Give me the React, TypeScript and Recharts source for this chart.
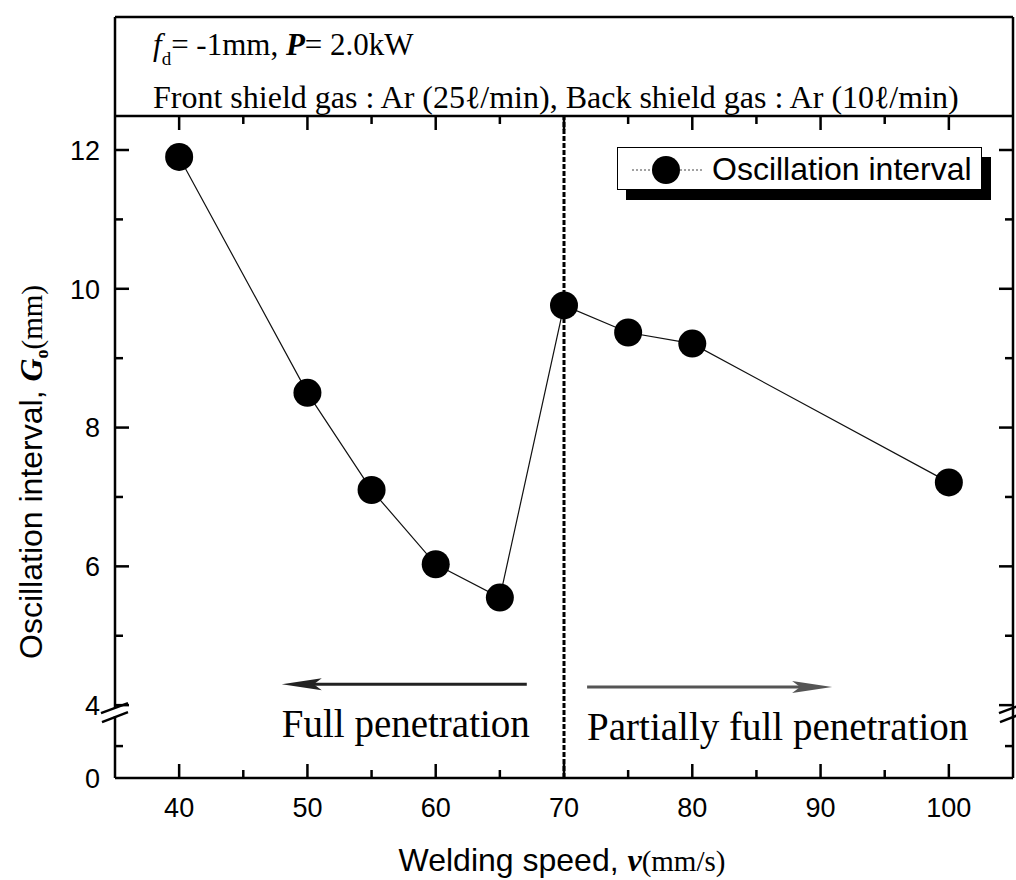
import React from 'react';
import { LineChart, Line, XAxis, YAxis, ReferenceLine, Legend } from 'recharts';

// welding speed v (mm/s) and oscillation interval Go (mm)
const SPEED = [40, 50, 55, 60, 65, 70, 75, 80, 100];
const GAP = [11.9, 8.5, 7.1, 6.03, 5.55, 9.76, 9.37, 9.21, 7.21];

const X_MAJOR = [40, 50, 60, 70, 80, 90, 100];
const X_MINOR = [45, 55, 65, 75, 85, 95];
const Y_MAJOR = [0, 4, 6, 8, 10, 12];
const Y_MINOR = [2, 5, 7, 9, 11];

const ARROWS = [
  { from: 67.1, to: 48, y: 4.3, text: 'Full penetration', color: '#222' },
  { from: 71.8, to: 90.9, y: 4.26, text: 'Partially full penetration', color: '#555' },
];

const SANS = '"Liberation Sans", Arial, sans-serif';
const SERIF = '"Liberation Serif", "Times New Roman", "DejaVu Serif", serif';

const X_MIN = 35;
const X_MAX = 105;

// broken y axis: 0..4 is squeezed below the break
const Y_BOTTOM = 2.95;
const Y_TOP = 12.49;
const LOW_SCALE = 0.23;
const BREAK_AT = 3.9;
const brokenY = (v: number) => (v >= 4 ? v : Y_BOTTOM + v * LOW_SCALE);
const Y_ALL = [...Y_MAJOR, ...Y_MINOR];
const rawOf = (d: number) => Y_ALL.find(t => Math.abs(brokenY(t) - d) < 1e-6);

const yTicks = [...Y_ALL.map(brokenY), BREAK_AT].sort((a, b) => a - b);
const xTicks = [...X_MAJOR, ...X_MINOR].sort((a, b) => a - b);

const data = SPEED.map((s, i) => ({ speed: s, gap: brokenY(GAP[i]) }));

const AX = 2.5;
const LEFT = 115;
const RIGHT = 1013;
const TOP = 116;
const BOTTOM = 778;
const MAJ = 14;
const MIN = 8;

// tick length in data units (inward ticks on all four sides)
const xPerPx = (X_MAX - X_MIN) / (RIGHT - LEFT);
const yPerPx = (Y_TOP - Y_BOTTOM) / (BOTTOM - TOP);

const frameTicks: { x1: number; y1: number; x2: number; y2: number }[] = [];
xTicks.forEach(t => {
  const len = (X_MAJOR.includes(t) ? MAJ : MIN) * yPerPx;
  frameTicks.push({ x1: t, y1: Y_BOTTOM, x2: t, y2: Y_BOTTOM + len });
  frameTicks.push({ x1: t, y1: Y_TOP, x2: t, y2: Y_TOP - len });
});
Y_ALL.filter(t => t > 0).forEach(t => {
  const d = brokenY(t);
  const len = (Y_MAJOR.includes(t) ? MAJ : MIN) * xPerPx;
  frameTicks.push({ x1: X_MIN, y1: d, x2: X_MIN + len, y2: d });
  frameTicks.push({ x1: X_MAX, y1: d, x2: X_MAX - len, y2: d });
});

function BreakMark({ x, y }: { x: number; y: number }) {
  return (
    <g>
      <rect x={x - 3} y={y - 4} width={6} height={8} fill="#fff" />
      <line x1={x - 14} y1={y + 1} x2={x + 13} y2={y - 9} stroke="#000" strokeWidth={2.5} />
      <line x1={x - 13} y1={y + 10} x2={x + 13} y2={y} stroke="#000" strokeWidth={2.5} />
    </g>
  );
}

function LeftTick({ y, payload }: any) {
  const v = payload.value;
  const x = LEFT;
  if (Math.abs(v - BREAK_AT) < 1e-6) return <BreakMark x={x} y={y} />;
  const raw = rawOf(v) as number;
  if (!Y_MAJOR.includes(raw)) return <g />;
  return (
    <text x={x - 15} y={y} dy="0.36em" textAnchor="end" fontSize={27} fontFamily={SANS} fill="#000">
      {raw}
    </text>
  );
}

function RightTick({ y, payload }: any) {
  const v = payload.value;
  if (Math.abs(v - BREAK_AT) < 1e-6) return <BreakMark x={RIGHT} y={y} />;
  return <g />;
}

function BottomTick({ x, payload }: any) {
  const v = payload.value;
  if (!X_MAJOR.includes(v)) return <g />;
  return (
    <text x={x} y={BOTTOM + 39} textAnchor="middle" fontSize={27} fontFamily={SANS} fill="#000">
      {v}
    </text>
  );
}

function Arrow(props: any) {
  const { x1, y1, x2, y2, text, color } = props;
  const dir = Math.sign(x2 - x1);
  const head = 40;
  const half = 6;
  const left = Math.min(x1, x2);
  return (
    <g>
      <line x1={x1} y1={y1} x2={x2 - dir * head * 0.6} y2={y2} stroke={color} strokeWidth={3} />
      <polygon
        points={`${x2},${y2} ${x2 - dir * head},${y2 - half} ${x2 - dir * head * 0.8},${y2} ${x2 - dir * head},${y2 + half}`}
        fill={color}
      />
      <text x={left} y={y1 + 53} fontFamily={SERIF} fontSize={39} fill="#000">
        {text}
      </text>
    </g>
  );
}

function LegendBox() {
  return (
    <div
      style={{
        width: 365,
        height: 43,
        boxSizing: 'border-box',
        border: '1.5px solid #000',
        background: '#fff',
        boxShadow: '9px 10px 0 #000',
        display: 'flex',
        alignItems: 'center',
      }}
    >
      <svg width={94} height={40} style={{ flex: 'none' }}>
        <line x1={14} y1={21} x2={84} y2={21} stroke="#444" strokeWidth={1} strokeDasharray="2 2" />
        <circle cx={48} cy={21} r={14} fill="#000" />
      </svg>
      <span style={{ fontFamily: SANS, fontSize: 32, lineHeight: '40px', color: '#000' }}>Oscillation interval</span>
    </div>
  );
}

export default function App() {
  const ty = 472;
  return (
    <div style={{ position: 'absolute', left: 0, top: 0, width: 1016, height: 880, background: '#fff' }}>
      <LineChart width={1016} height={880} data={data} margin={{ top: TOP, right: 1016 - RIGHT - 1, bottom: 0, left: 0 }}>
        <XAxis
          dataKey="speed"
          type="number"
          domain={[X_MIN, X_MAX]}
          ticks={xTicks}
          interval={0}
          allowDataOverflow
          height={880 - BOTTOM}
          tickSize={0}
          tickMargin={0}
          tickLine={false}
          axisLine={{ stroke: '#000', strokeWidth: AX }}
          tick={<BottomTick />}
        />
        <YAxis
          type="number"
          domain={[Y_BOTTOM, Y_TOP]}
          ticks={yTicks}
          interval={0}
          allowDataOverflow
          width={LEFT}
          tickSize={0}
          tickMargin={0}
          tickLine={false}
          axisLine={{ stroke: '#000', strokeWidth: AX }}
          tick={<LeftTick />}
        />
        <YAxis
          yAxisId="right"
          orientation="right"
          type="number"
          domain={[Y_BOTTOM, Y_TOP]}
          ticks={yTicks}
          interval={0}
          allowDataOverflow
          width={1}
          tickSize={0}
          tickMargin={0}
          tickLine={false}
          axisLine={false}
          tick={<RightTick />}
        />
        {frameTicks.map((t, i) => (
          <ReferenceLine
            key={`tick-${i}`}
            ifOverflow="visible"
            segment={[{ x: t.x1, y: t.y1 }, { x: t.x2, y: t.y2 }]}
            stroke="#000"
            strokeWidth={AX}
          />
        ))}
        <ReferenceLine x={70} stroke="#000" strokeWidth={3} strokeDasharray="5 2" />
        {ARROWS.map((a, i) => (
          <ReferenceLine
            key={i}
            segment={[{ x: a.from, y: a.y }, { x: a.to, y: a.y }]}
            shape={(p: any) => <Arrow {...p} text={a.text} color={a.color} />}
          />
        ))}
        <Line
          type="linear"
          dataKey="gap"
          stroke="#111"
          strokeWidth={1.2}
          dot={{ r: 14, fill: '#000', stroke: 'none' }}
          activeDot={false}
          isAnimationActive={false}
        />
        <Legend
          layout="vertical"
          verticalAlign="middle"
          align="center"
          wrapperStyle={{ left: 617, top: 147, width: 365, height: 43 }}
          content={() => <LegendBox />}
        />
      </LineChart>
      <svg width={1016} height={880} style={{ position: 'absolute', left: 0, top: 0, pointerEvents: 'none' }}>
        <line x1={LEFT} y1={17} x2={LEFT} y2={TOP} stroke="#000" strokeWidth={AX} />
        <line x1={LEFT} y1={17} x2={RIGHT} y2={17} stroke="#000" strokeWidth={AX} />
        <line x1={LEFT} y1={TOP} x2={RIGHT} y2={TOP} stroke="#000" strokeWidth={AX} />
        <line x1={RIGHT} y1={17} x2={RIGHT} y2={BOTTOM} stroke="#000" strokeWidth={AX} />
        <text x={153} y={55} fontFamily={SERIF} fontSize={31} fill="#000">
          <tspan fontStyle="italic">f</tspan>
          <tspan fontSize={19} dy={10}>d</tspan>
          <tspan dy={-10}>= -1mm, </tspan>
          <tspan fontWeight="bold" fontStyle="italic">P</tspan>
          <tspan>= 2.0kW</tspan>
        </text>
        <text x={153} y={108} fontFamily={SERIF} fontSize={32} fill="#000">
          Front shield gas : Ar (25ℓ/min), Back shield gas : Ar (10ℓ/min)
        </text>
        <text x={42} y={ty} transform={`rotate(-90 42 ${ty})`} textAnchor="middle" fontSize={32} fontFamily={SANS} fill="#000">
          Oscillation interval,{' '}
          <tspan fontFamily={SERIF} fontWeight="bold" fontStyle="italic">G</tspan>
          <tspan fontFamily={SERIF} fontWeight="bold" fontSize={18} dy={6}>o</tspan>
          <tspan fontFamily={SERIF} fontSize={29} dy={-6}>(mm)</tspan>
        </text>
        <text x={562} y={871} textAnchor="middle" fontSize={32} fontFamily={SANS} fill="#000">
          Welding speed,{' '}
          <tspan fontFamily={SERIF} fontWeight="bold" fontStyle="italic">v</tspan>
          <tspan fontFamily={SERIF} fontSize={29}>(mm/s)</tspan>
        </text>
      </svg>
    </div>
  );
}
